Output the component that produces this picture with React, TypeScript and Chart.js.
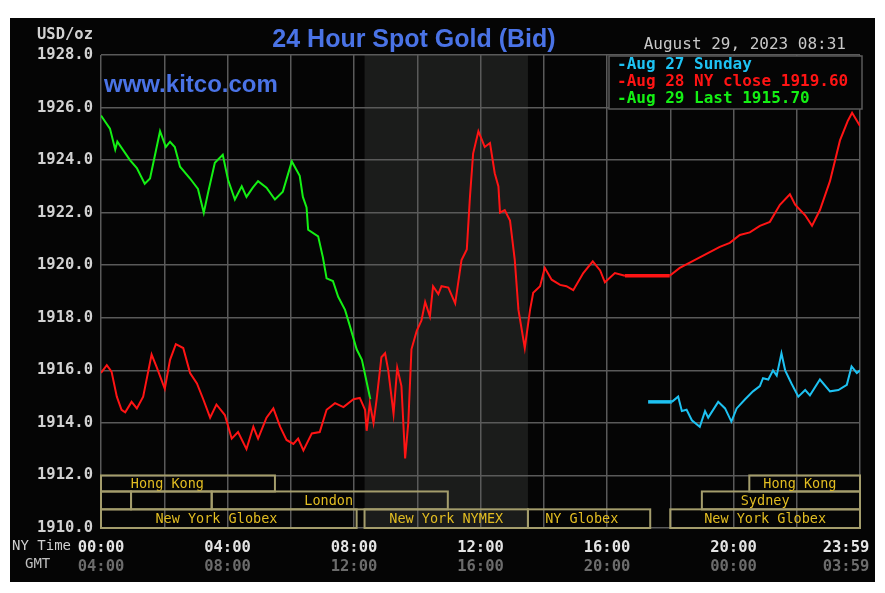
import React, { useEffect, useRef } from 'react';
import { Chart, registerables } from 'chart.js';

Chart.register(...registerables);

// ---------- text ----------
const chartTitle = '24 Hour Spot Gold (Bid)';
const watermark = 'www.kitco.com';
const timeStamp = 'August 29, 2023 08:31';
const unitLabel = 'USD/oz';
const nyRowLabel = 'NY Time';
const gmtRowLabel = 'GMT';

// ---------- axes ----------
const yMin = 1910;
const yMax = 1928;
const yStep = 2;
const gridMinutes = [0, 120, 240, 360, 480, 600, 720, 840, 960, 1080, 1200, 1320, 1440];
const labelMinutes = [0, 240, 480, 720, 960, 1200, 1440];
const nyTickLabels = ['00:00', '04:00', '08:00', '12:00', '16:00', '20:00', '23:59'];
const gmtTickLabels = ['04:00', '08:00', '12:00', '16:00', '20:00', '00:00', '03:59'];

// ---------- series (minutes after NY midnight, USD/oz) ----------
const seriesNames = ['Aug 27 Sunday', 'Aug 28 NY close 1919.60', 'Aug 29 Last 1915.70'];
const seriesColors = ['#1ec2f2', '#ff1414', '#14f014'];

const aug27Minutes = [1038, 1083, 1095, 1102, 1111, 1121, 1136, 1146, 1152, 1171, 1184, 1196, 1206, 1222, 1237, 1250, 1256, 1266, 1275, 1282, 1291, 1298, 1310, 1323, 1336, 1345, 1364, 1383, 1399, 1415, 1424, 1434, 1440];
const aug27Values = [1914.8, 1914.8, 1915.0, 1914.45, 1914.5, 1914.1, 1913.85, 1914.45, 1914.2, 1914.8, 1914.55, 1914.05, 1914.55, 1914.9, 1915.2, 1915.4, 1915.7, 1915.65, 1916.0, 1915.8, 1916.65, 1916.0, 1915.5, 1915.0, 1915.25, 1915.05, 1915.65, 1915.2, 1915.25, 1915.45, 1916.15, 1915.9, 1916.0];

const aug28Minutes = [0, 11, 20, 30, 39, 46, 58, 68, 80, 96, 106, 121, 131, 142, 156, 169, 182, 194, 207, 219, 235, 248, 260, 276, 289, 298, 314, 327, 340, 352, 365, 374, 384, 400, 415, 428, 444, 460, 479, 491, 501, 504, 510, 517, 523, 532, 539, 545, 555, 562, 570, 577, 583, 589, 599, 608, 615, 624, 630, 640, 646, 659, 672, 684, 694, 700, 706, 716, 728, 738, 747, 754, 757, 766, 776, 785, 792, 804, 814, 820, 833, 842, 855, 871, 883, 896, 915, 933, 947, 956, 975, 994, 1004, 1079, 1098, 1117, 1136, 1155, 1174, 1193, 1212, 1231, 1250, 1269, 1288, 1307, 1317, 1336, 1349, 1364, 1383, 1402, 1417, 1425, 1440];
const aug28Values = [1915.9, 1916.2, 1915.95, 1915.0, 1914.5, 1914.4, 1914.8, 1914.55, 1915.0, 1916.6, 1916.1, 1915.3, 1916.4, 1917.0, 1916.85, 1915.9, 1915.5, 1914.9, 1914.2, 1914.7, 1914.3, 1913.4, 1913.65, 1913.0, 1913.85, 1913.4, 1914.2, 1914.55, 1913.85, 1913.35, 1913.2, 1913.4, 1912.95, 1913.6, 1913.65, 1914.5, 1914.75, 1914.6, 1914.9, 1914.95, 1914.5, 1913.7, 1914.75, 1914.0, 1914.9, 1916.5, 1916.65, 1916.0, 1914.35, 1916.1, 1915.4, 1912.65, 1914.0, 1916.8, 1917.5, 1917.9, 1918.6, 1918.05, 1919.2, 1918.9, 1919.2, 1919.15, 1918.55, 1920.2, 1920.6, 1922.6, 1924.25, 1925.1, 1924.5, 1924.65, 1923.5, 1923.0, 1922.0, 1922.1, 1921.7, 1920.2, 1918.3, 1916.85, 1918.3, 1918.95, 1919.2, 1919.9, 1919.45, 1919.25, 1919.2, 1919.05, 1919.7, 1920.15, 1919.8, 1919.35, 1919.7, 1919.6, 1919.6, 1919.6, 1919.9, 1920.1, 1920.3, 1920.5, 1920.7, 1920.85, 1921.15, 1921.25, 1921.5, 1921.65, 1922.3, 1922.7, 1922.3, 1921.9, 1921.5, 1922.1, 1923.2, 1924.75, 1925.5, 1925.8, 1925.3];

const aug29Minutes = [0, 17, 27, 31, 55, 68, 83, 93, 112, 123, 131, 140, 150, 169, 184, 195, 203, 216, 231, 241, 254, 267, 276, 288, 298, 314, 330, 345, 362, 377, 383, 390, 393, 412, 421, 428, 440, 450, 463, 472, 485, 495, 511];
const aug29Values = [1925.7, 1925.2, 1924.4, 1924.7, 1924.0, 1923.7, 1923.1, 1923.3, 1925.1, 1924.5, 1924.7, 1924.5, 1923.75, 1923.3, 1922.9, 1922.0, 1922.75, 1923.9, 1924.2, 1923.25, 1922.5, 1923.0, 1922.6, 1922.95, 1923.2, 1922.95, 1922.5, 1922.8, 1923.95, 1923.4, 1922.6, 1922.2, 1921.35, 1921.1, 1920.3, 1919.5, 1919.4, 1918.8, 1918.3, 1917.7, 1916.8, 1916.4, 1914.9];

// ---------- market sessions ----------
const nymexStart = 500;
const nymexEnd = 810;
const sessionLabels = ['Hong Kong', '', '', 'London', 'New York Globex', 'New York NYMEX', 'NY Globex', 'New York Globex', 'Sydney', 'Hong Kong'];
const sessionRows = [0, 1, 1, 1, 2, 2, 2, 2, 1, 0];
const sessionStart = [0, 0, 57, 210, 0, 500, 810, 1080, 1140, 1230];
const sessionEnd = [330, 57, 210, 658, 485, 810, 1042, 1440, 1440, 1440];
const sessionLabelAt = [126, 0, 0, 432, 219, 655, 912, 1260, 1260, 1326];
const sessionRowTops = [1912, 1911.39, 1910.71];

const MONO = "'DejaVu Sans Mono', monospace";
const SANS = "'Liberation Sans', Arial, sans-serif";
const GRID = '#5a5a5a';

const decor = {
  id: 'decor',
  beforeDraw(chart: any) {
    const { ctx, chartArea: ca, scales } = chart;
    const x0 = scales.x.getPixelForValue(nymexStart);
    const x1 = scales.x.getPixelForValue(nymexEnd);
    ctx.save();
    ctx.fillStyle = '#1b1c1b';
    ctx.fillRect(x0, ca.top, x1 - x0, ca.bottom - ca.top);
    ctx.restore();
  },
  beforeDatasetsDraw(chart: any) {
    const { ctx, chartArea: ca, scales } = chart;
    const xs = scales.x;
    const ys = scales.y;
    ctx.save();
    ctx.beginPath();
    ctx.rect(ca.left - 1, ca.top - 1, ca.right - ca.left + 2, ca.bottom - ca.top + 2);
    ctx.clip();
    ctx.strokeStyle = '#a49d6c';
    ctx.lineWidth = 2;
    ctx.fillStyle = '#e2bd22';
    ctx.font = `13.5px ${MONO}`;
    ctx.textAlign = 'center';
    ctx.textBaseline = 'middle';
    sessionLabels.forEach((lab, i) => {
      const r = sessionRows[i];
      const top = ys.getPixelForValue(sessionRowTops[r]);
      const bot = ys.getPixelForValue(r + 1 < sessionRowTops.length ? sessionRowTops[r + 1] : yMin);
      const a = xs.getPixelForValue(sessionStart[i]);
      const b = xs.getPixelForValue(sessionEnd[i]);
      ctx.strokeRect(a, top, b - a, bot - top);
      if (lab) ctx.fillText(lab, xs.getPixelForValue(sessionLabelAt[i]), (top + bot) / 2 + 1);
    });
    ctx.restore();
  },
  afterDraw(chart: any) {
    const { ctx, chartArea: ca } = chart;
    ctx.save();
    // title
    ctx.fillStyle = '#4a73e6';
    ctx.font = `bold 25px ${SANS}`;
    ctx.textAlign = 'center';
    ctx.textBaseline = 'middle';
    ctx.fillText(chartTitle, 404, 22);
    ctx.font = `bold 24px ${SANS}`;
    ctx.textAlign = 'left';
    ctx.fillText(watermark, ca.left + 3, 67);
    // unit + timestamp
    ctx.fillStyle = '#d2d2d2';
    ctx.font = `bold 15.5px ${MONO}`;
    ctx.textAlign = 'right';
    ctx.fillText(unitLabel, ca.left - 8, 17);
    ctx.fillStyle = '#c8c8c8';
    ctx.font = `16px ${MONO}`;
    ctx.textAlign = 'right';
    ctx.fillText(timeStamp, ca.right - 14, 27);
    // NY Time / GMT
    ctx.font = `14px ${MONO}`;
    ctx.textAlign = 'left';
    ctx.fillStyle = '#d0d0d0';
    ctx.fillText(nyRowLabel, 2, ca.bottom + 18);
    ctx.fillStyle = '#c0c0c0';
    ctx.fillText(gmtRowLabel, 15, ca.bottom + 36);
    // legend
    const lx = ca.right - 251;
    const ly = ca.top + 1;
    const lw = 253;
    const lh = 53;
    ctx.fillStyle = '#050505';
    ctx.fillRect(lx, ly, lw, lh);
    ctx.strokeStyle = GRID;
    ctx.lineWidth = 1.5;
    ctx.strokeRect(lx, ly, lw, lh);
    ctx.font = `bold 16px ${MONO}`;
    ctx.textAlign = 'left';
    ctx.textBaseline = 'middle';
    chart.data.datasets.forEach((ds: any, i: number) => {
      ctx.fillStyle = ds.borderColor;
      ctx.fillText('-' + ds.label, lx + 8, ly + 9 + i * 17);
    });
    ctx.restore();
  },
};

function pts(ms: number[], vs: number[]) {
  return ms.map((m, i) => ({ x: m, y: vs[i] }));
}

function fitBox(s: any, h: number) {
  s.height = h;
  s.paddingLeft = 0;
  s.paddingRight = 0;
}

export default function App() {
  const ref = useRef<HTMLCanvasElement>(null);

  useEffect(() => {
    if (!ref.current) return;
    const series = [
      pts(aug27Minutes, aug27Values),
      pts(aug28Minutes, aug28Values),
      pts(aug29Minutes, aug29Values),
    ];
    const chart = new Chart(ref.current, {
      type: 'line',
      data: {
        datasets: series.map((d, i) => ({
          label: seriesNames[i],
          data: d,
          borderColor: seriesColors[i],
          backgroundColor: seriesColors[i],
          borderWidth: 2,
          pointRadius: 0,
          tension: 0,
          fill: false,
          segment: {
            borderWidth: (c: any) => (c.p0.parsed.y === c.p1.parsed.y ? 3.5 : 2),
          },
        })),
      },
      options: {
        animation: false,
        responsive: false,
        maintainAspectRatio: false,
        devicePixelRatio: 1,
        layout: { autoPadding: false, padding: { left: 0, right: 15, top: 37, bottom: 0 } },
        plugins: { legend: { display: false }, tooltip: { enabled: false }, title: { display: false } },
        scales: {
          x: {
            type: 'linear',
            position: 'bottom',
            min: 0,
            max: 1440,
            weight: 0,
            afterBuildTicks: (s: any) => {
              s.ticks = gridMinutes.map((v) => ({ value: v }));
            },
            afterFit: (s: any) => fitBox(s, 26),
            grid: { color: GRID, lineWidth: 1.5, drawTicks: false },
            border: { display: false },
            ticks: {
              autoSkip: false,
              maxRotation: 0,
              minRotation: 0,
              padding: 11,
              color: '#e4e4e4',
              font: { family: MONO, size: 15.5, weight: 'bold' },
              callback: (v: any) => {
                const i = labelMinutes.indexOf(v);
                if (i < 0) return '';
                return v === 1440 ? nyTickLabels[i] + '   ' : nyTickLabels[i];
              },
            },
          },
          x2: {
            type: 'linear',
            position: 'bottom',
            min: 0,
            max: 1440,
            weight: 1,
            afterBuildTicks: (s: any) => {
              s.ticks = labelMinutes.map((v) => ({ value: v }));
            },
            afterFit: (s: any) => fitBox(s, 28),
            grid: { display: false, drawTicks: false },
            border: { display: false },
            ticks: {
              autoSkip: false,
              maxRotation: 0,
              minRotation: 0,
              padding: 4,
              color: '#6c6c6c',
              font: { family: MONO, size: 15.5, weight: 'bold' },
              callback: (v: any) => {
                const i = labelMinutes.indexOf(v);
                if (i < 0) return '';
                return v === 1440 ? gmtTickLabels[i] + '   ' : gmtTickLabels[i];
              },
            },
          },
          y: {
            min: yMin,
            max: yMax,
            afterFit: (s: any) => {
              s.width = 91;
              s.paddingTop = 0;
              s.paddingBottom = 0;
            },
            grid: { color: GRID, lineWidth: 1.5, drawTicks: false },
            border: { display: false },
            ticks: {
              stepSize: yStep,
              padding: 8,
              color: '#d2d2d2',
              font: { family: MONO, size: 15.5, weight: 'bold' },
              callback: (v: any) => Number(v).toFixed(1),
            },
          },
        },
      },
      plugins: [decor],
    } as any);
    return () => chart.destroy();
  }, []);

  return (
    <div style={{ position: 'absolute', left: 0, top: 0, width: 885, height: 593, background: '#ffffff' }}>
      <div style={{ position: 'absolute', left: 10, top: 18, width: 865, height: 564, background: '#050505' }}>
        <canvas ref={ref} width={865} height={564} style={{ display: 'block', width: 865, height: 564 }} />
      </div>
    </div>
  );
}
